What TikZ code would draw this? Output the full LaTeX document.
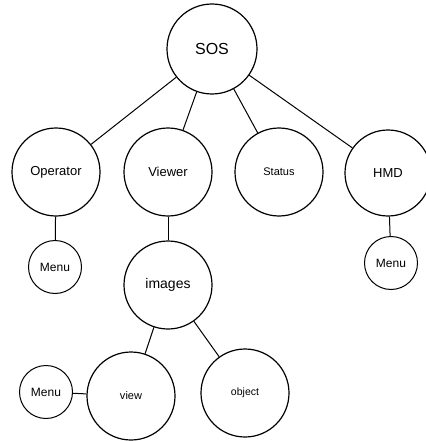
\documentclass[tikz,border=0pt]{standalone}
\usepackage{fontspec}
\setmainfont{Liberation Sans}
\usetikzlibrary{positioning, calc}

\begin{document}
\begin{tikzpicture}[x=1pt, y=-1pt,
  c/.style={draw, circle, line width=1.2pt, inner sep=0pt, minimum size=88pt, font=\fontsize{13}{15}\selectfont},
  sm/.style={c, line width=1pt, minimum size=53pt, font=\fontsize{12}{14}\selectfont},
  l/.style={line width=1pt, draw=black}]
  \useasboundingbox (0,0) rectangle (425,441);
  \node[c, minimum size=90pt, font=\fontsize{16}{18}\selectfont] (sos) at (212,49) {SOS};
  \node[c] (op) at (56,172) {Operator};
  \node[c] (vw) at (168,172) {Viewer};
  \node[c, font=\fontsize{11}{13}\selectfont] (st) at (279,172) {Status};
  \node[c, minimum size=86pt] (hmd) at (388,173) {HMD};
  \node[sm] (opm) at (55,267) {Menu};
  \node[sm] (hmdm) at (391,263) {Menu};
  \node[c, font=\fontsize{14}{16}\selectfont] (img) at (168,285) {images};
  \node[c, font=\fontsize{11}{13}\selectfont] (view) at (131,396) {view};
  \node[c, font=\fontsize{10.5}{12}\selectfont] (obj) at (245,393) {object};
  \node[sm] (viewm) at (46,392) {Menu};
  \draw[l] (sos) -- (op);
  \draw[l] (sos) -- (vw);
  \draw[l] (sos) -- (st);
  \draw[l] (sos) -- (hmd);
  \draw[l] (op) -- (opm);
  \draw[l] (hmd) -- (hmdm);
  \draw[l] (vw) -- (img);
  \draw[l] (img) -- (view);
  \draw[l] (img) -- (obj);
  \draw[l] (viewm) -- (view);
\end{tikzpicture}
\end{document}
